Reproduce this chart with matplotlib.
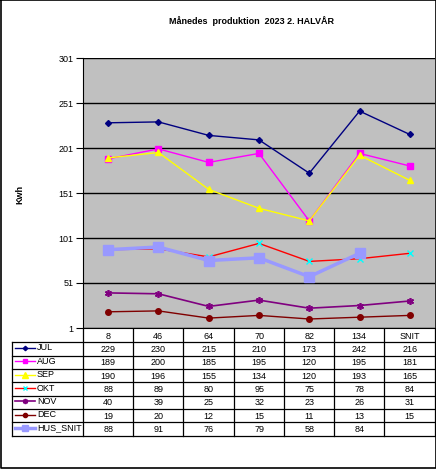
import matplotlib
matplotlib.use("Agg")
import matplotlib.pyplot as plt

plt.rcParams['font.family'] = ['Liberation Sans', 'DejaVu Sans']

categories = ["8", "46", "64", "70", "82", "134", "SNIT"]
JUL = [229, 230, 215, 210, 173, 242, 216]
AUG = [189, 200, 185, 195, 120, 195, 181]
SEP = [190, 196, 155, 134, 120, 193, 165]
OKT = [88, 89, 80, 95, 75, 78, 84]
NOV = [40, 39, 25, 32, 23, 26, 31]
DEC = [19, 20, 12, 15, 11, 13, 15]
HUS_SNIT = [88, 91, 76, 79, 58, 84]
series_names = ["JUL", "AUG", "SEP", "OKT", "NOV", "DEC", "HUS_SNIT"]
series_values = [JUL, AUG, SEP, OKT, NOV, DEC, HUS_SNIT]
y_ticks = [1, 51, 101, 151, 201, 251, 301]
title = "Månedes  produktion  2023 2. HALVÅR"
y_label = "Kwh"

styles = [
    dict(color="#000080", marker="D", ms=3, mfc="#000080", mec="#000080", lw=1.0),
    dict(color="#FF00FF", marker="s", ms=4.5, mfc="#FF00FF", mec="#FF00FF", lw=1.0),
    dict(color="#FFFF00", marker="^", ms=5, mfc="#FFFF00", mec="#FFFF00", lw=1.0),
    dict(color="#FF0000", marker="x", ms=4.5, mfc="#00FFFF", mec="#00FFFF", lw=1.0, mew=1.0),
    dict(color="#800080", marker=(6, 2, 0), ms=5, mfc="#800080", mec="#800080", lw=1.2, mew=1.2),
    dict(color="#800000", marker="o", ms=4, mfc="#800000", mec="#800000", lw=1.0),
    dict(color="#9999FF", marker="s", ms=6.5, mfc="#9999FF", mec="#9999FF", lw=2.5),
]

W, H = 436, 469
fig = plt.figure(figsize=(W / 100, H / 100), dpi=100)
fig.patch.set_facecolor("white")

left, right, top, bottom = 83, 435, 58, 328
ax = fig.add_axes([left / W, 1 - bottom / H, (right - left) / W, (bottom - top) / H])
ax.set_facecolor("#C0C0C0")
x = list(range(len(categories)))
for vals, st in zip(series_values, styles):
    ax.plot(x[:len(vals)], vals, zorder=3, **st)
ax.set_xlim(-0.5, len(categories) - 0.5)
ax.set_ylim(1, 301)
ax.set_yticks(y_ticks)
ax.set_yticklabels([str(t) for t in y_ticks], fontsize=6.5)
ax.set_xticks([])
ax.yaxis.grid(True, color="black", lw=1.0)
ax.set_axisbelow(True)
ax.tick_params(axis="y", length=5, width=0.8, pad=2)
for s in ["top", "right"]:
    ax.spines[s].set_visible(False)
ax.spines["left"].set_color("black")
ax.spines["left"].set_linewidth(0.8)
ax.spines["bottom"].set_color("black")
ax.spines["bottom"].set_linewidth(0.8)

# overlay axes for title, label, table, border
ov = fig.add_axes([0, 0, 1, 1], facecolor="none")
ov.set_xlim(0, W)
ov.set_ylim(H, 0)
ov.axis("off")

ov.text(251, 21, title, ha="center", va="center", fontsize=6.5, fontweight="bold")
ov.text(20, 194, y_label, ha="center", va="center", rotation=90, fontsize=6.5, fontweight="bold")

# table geometry
col_edges = [83.3, 133.3, 183.3, 234.3, 284.3, 334.3, 384.3, 435]
row_h = 13.35
hdr_top, hdr_bot = 329, 342.3
lab_left = 12
rows_top = [hdr_bot + i * row_h for i in range(len(series_names) + 1)]
lc = "black"
lw = 0.9
for xe in col_edges:
    ov.plot([xe, xe], [hdr_top, rows_top[-1]], color=lc, lw=lw)
ov.plot([lab_left, lab_left], [hdr_bot, rows_top[-1]], color=lc, lw=lw)
for y in rows_top:
    ov.plot([lab_left, col_edges[-1]], [y, y], color=lc, lw=lw)
for i, c in enumerate(categories):
    cx = (col_edges[i] + col_edges[i + 1]) / 2
    ov.text(cx, (hdr_top + hdr_bot) / 2 + 0.5, c, ha="center", va="center", fontsize=6.5)
for r, (name, vals, st) in enumerate(zip(series_names, series_values, styles)):
    yc = rows_top[r] + row_h / 2
    ov.plot([15, 35], [yc - 1, yc - 1], color=st["color"], lw=st["lw"])
    ov.plot([25], [yc - 1], marker=st["marker"], ms=st["ms"] * 0.75, mfc=st["mfc"],
            mec=st["mec"], mew=st.get("mew", 1.0), ls="none")
    ov.text(37, yc - 1, name, ha="left", va="center", fontsize=6.5)
    for i, v in enumerate(vals):
        cx = (col_edges[i] + col_edges[i + 1]) / 2
        ov.text(cx, yc + 0.5, str(v), ha="center", va="center", fontsize=6.5)

ov.plot([0.5, W - 0.5, W - 0.5, 0.5, 0.5], [0.5, 0.5, H - 0.5, H - 0.5, 0.5], color="black", lw=1.2)

fig.savefig("out.png", dpi=100)
